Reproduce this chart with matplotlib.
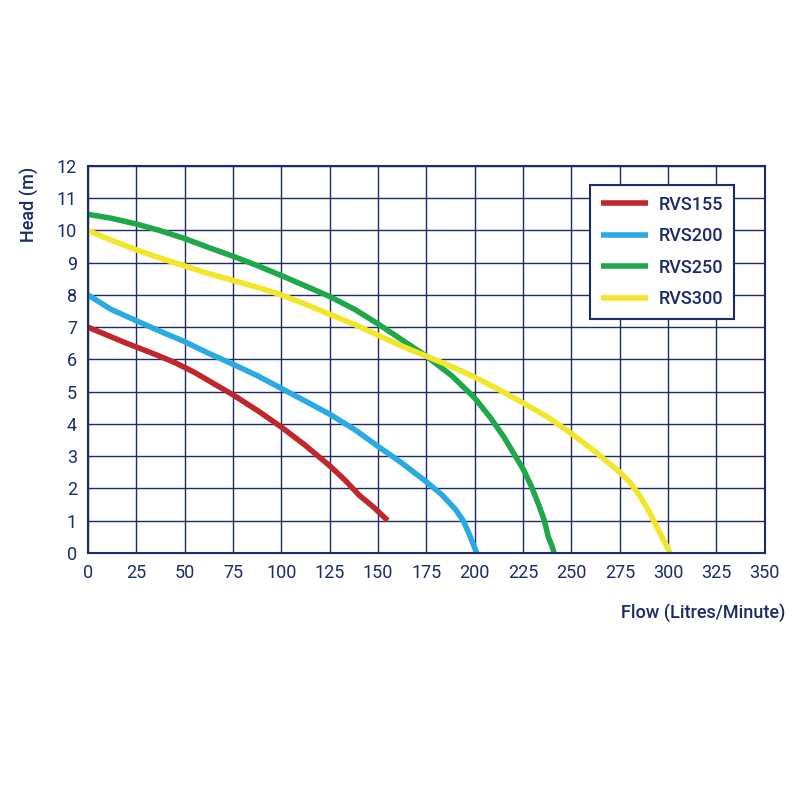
import matplotlib
matplotlib.use("Agg")
import matplotlib.pyplot as plt

navy = "#1b2a6b"
plt.rcParams['font.family'] = ['Roboto', 'DejaVu Sans']

x155 = [0, 10, 20, 35, 45, 55, 65, 75, 88, 100, 112, 125, 133, 140, 148, 155]
y155 = [7, 6.75, 6.5, 6.15, 5.9, 5.6, 5.25, 4.9, 4.4, 3.9, 3.35, 2.7, 2.25, 1.8, 1.4, 1.0]
x200 = [0, 12, 25, 37, 50, 62, 75, 88, 100, 112, 125, 138, 150, 162, 175, 183, 190, 194, 197, 199, 201]
y200 = [8, 7.55, 7.2, 6.88, 6.55, 6.2, 5.85, 5.48, 5.1, 4.72, 4.3, 3.82, 3.3, 2.8, 2.2, 1.8, 1.35, 1.0, 0.6, 0.3, 0]
x250 = [0, 12, 25, 37, 50, 62, 75, 88, 100, 112, 125, 138, 150, 162, 175, 188, 200, 208, 215, 220, 225, 229, 233, 236, 238, 240, 241]
y250 = [10.5, 10.38, 10.2, 10.0, 9.75, 9.48, 9.2, 8.9, 8.6, 8.29, 7.95, 7.55, 7.1, 6.62, 6.1, 5.5, 4.8, 4.2, 3.6, 3.1, 2.6, 2.1, 1.5, 1.0, 0.5, 0.2, 0]
x300 = [0, 12, 25, 37, 50, 62, 75, 88, 100, 112, 125, 138, 150, 162, 175, 188, 200, 212, 225, 238, 250, 262, 275, 280, 285, 290, 295, 298, 301]
y300 = [10, 9.7, 9.4, 9.15, 8.9, 8.67, 8.45, 8.23, 8.0, 7.72, 7.4, 7.08, 6.75, 6.42, 6.1, 5.78, 5.45, 5.08, 4.65, 4.2, 3.7, 3.15, 2.5, 2.2, 1.8, 1.3, 0.7, 0.35, 0]

series = [("RVS155", x155, y155, "#c0272d"),
          ("RVS200", x200, y200, "#2aaae2"),
          ("RVS250", x250, y250, "#1fa84a"),
          ("RVS300", x300, y300, "#f2e52a")]

fig = plt.figure(figsize=(8, 8), dpi=100)
ax = fig.add_axes([0.11, 0.309, 0.846, 0.4835])
for name, xs, ys, c in series:
    ax.plot(xs, ys, color=c, lw=4, label=name, solid_capstyle='butt', solid_joinstyle='round')
ax.set_xlim(0, 350)
ax.set_ylim(0, 12)
ax.set_xticks(range(0, 351, 25))
ax.set_yticks(range(0, 13))
ax.grid(True, color=navy, lw=1)
ax.set_axisbelow(True)
for s in ax.spines.values():
    s.set_color(navy); s.set_linewidth(1.5)
ax.tick_params(length=0, labelsize=13, colors=navy, pad=8)
ax.set_ylabel("Head (m)", color=navy, fontsize=13, fontweight='medium')
ax.yaxis.set_label_coords(-0.072, 0.9)
ax.set_xlabel("Flow (Litres/Minute)", color=navy, fontsize=13, fontweight='medium')
ax.xaxis.set_label_coords(1.03, -0.133)
ax.xaxis.label.set_horizontalalignment('right')
leg = ax.legend(loc='upper right', bbox_to_anchor=(0.968, 0.975), fancybox=False,
                edgecolor=navy, framealpha=1, fontsize=13, handlelength=2.6,
                borderpad=0.6, labelspacing=0.75, handletextpad=0.6)
leg.get_frame().set_linewidth(1.5)
for t in leg.get_texts():
    t.set_color(navy); t.set_fontweight('medium')
fig.savefig("out.png")
